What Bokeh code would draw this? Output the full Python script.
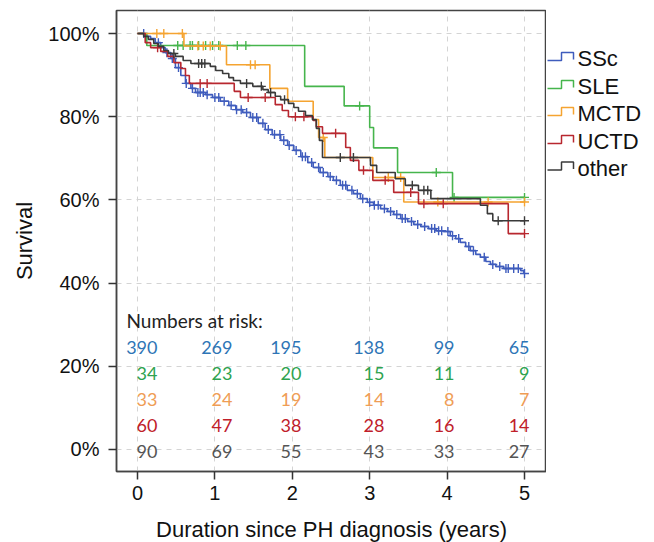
import numpy as np
from bokeh.plotting import figure
from bokeh.models import Range1d, FixedTicker, PrintfTickFormatter
from bokeh.layouts import row
from bokeh.core.properties import value
from bokeh.embed import file_html
from bokeh.resources import INLINE

# ---------------- data ----------------
groups = ["SSc", "SLE", "MCTD", "UCTD", "other"]
line_colors = ["#3f5cbd", "#46b54c", "#f5a431", "#b8272f", "#3a3a3a"]
risk_colors = ["#2e75b6", "#2ea34f", "#ef9d55", "#c0202a", "#555555"]

ssc_t = [0.10, 0.17, 0.23, 0.30, 0.36, 0.43, 0.49, 0.56, 0.62, 0.69,
         0.75, 0.88, 0.97, 1.07, 1.18, 1.27, 1.36, 1.46, 1.56, 1.65,
         1.74, 1.85, 1.94, 2.02, 2.11, 2.20, 2.27, 2.36, 2.46, 2.53,
         2.62, 2.71, 2.79, 2.88, 2.97, 3.05, 3.14, 3.23, 3.31, 3.40,
         3.49, 3.57, 3.66, 3.76, 3.86, 3.95, 4.04, 4.11, 4.17, 4.24,
         4.30, 4.37, 4.43, 4.50, 4.56, 4.63, 4.73, 4.95, 4.99]
ssc_s = [99.3, 98.8, 97.8, 96.6, 95.4, 94.0, 91.8, 89.9, 88.0, 86.8,
         85.8, 85.3, 84.6, 83.7, 82.7, 81.7, 81.0, 79.8, 78.4, 76.9,
         75.7, 74.3, 73.1, 71.9, 70.4, 69.0, 67.8, 66.6, 65.6, 64.7,
         63.5, 62.3, 61.5, 60.3, 59.4, 58.7, 57.9, 57.2, 56.5, 55.5,
         54.8, 54.1, 53.6, 53.1, 52.6, 52.4, 51.4, 50.7, 49.8, 48.8,
         47.8, 46.9, 46.2, 45.2, 44.5, 44.0, 43.5, 43.0, 42.3]
ssc_cens = [0.08, 0.27, 0.38, 0.45, 0.53, 0.63, 0.71, 0.78, 0.81, 0.85,
            0.90, 1.00, 1.05, 1.12, 1.21, 1.28, 1.34, 1.41, 1.49, 1.54,
            1.62, 1.69, 1.77, 1.84, 1.89, 1.96, 2.05, 2.13, 2.17, 2.25,
            2.34, 2.40, 2.49, 2.57, 2.65, 2.69, 2.77, 2.84, 2.91, 3.00,
            3.06, 3.11, 3.19, 3.27, 3.35, 3.42, 3.46, 3.54, 3.62, 3.71,
            3.80, 3.84, 3.89, 3.93, 4.01, 4.07, 4.15, 4.28, 4.34, 4.48,
            4.59, 4.68, 4.76, 4.79, 4.86, 4.92, 5.00]

sle_t = [0.12, 2.16, 2.67, 3.00, 3.05, 3.36, 4.07]
sle_s = [97.1, 87.3, 82.6, 77.4, 72.5, 66.6, 60.6]
sle_cens = [0.52, 0.59, 0.68, 0.71, 0.79, 0.88, 0.97, 1.05, 1.29, 1.40,
            2.87, 3.86, 4.09, 5.00]

mctd_t = [0.60, 1.15, 1.71, 1.94, 2.27, 2.34, 2.42, 3.04, 3.44]
mctd_s = [97.0, 92.5, 86.8, 83.7, 79.3, 75.0, 70.2, 65.4, 59.5]
mctd_cens = [0.25, 0.34, 0.58, 0.78, 0.85, 0.94, 1.07, 1.46, 1.52, 2.40,
             3.24, 3.40, 3.88, 4.53, 5.00]

uctd_t = [0.10, 0.17, 0.30, 0.39, 0.47, 0.56, 0.62, 0.67, 1.25, 1.33,
          1.78, 1.87, 1.95, 2.27, 2.31, 2.39, 2.69, 2.75, 2.86, 3.04,
          3.31, 3.63, 4.79]
uctd_s = [97.8, 96.6, 95.7, 94.5, 93.0, 91.6, 89.9, 88.0, 86.1, 84.6,
          82.9, 81.5, 80.0, 79.1, 77.6, 76.0, 72.6, 69.5, 67.1, 64.7,
          61.8, 59.1, 51.9]
uctd_cens = [0.26, 0.81, 0.90, 1.43, 1.65, 2.04, 2.15, 2.56, 2.92, 3.20,
             3.53, 3.70, 3.95, 5.00]

other_t = [0.08, 0.14, 0.21, 0.27, 0.34, 0.40, 0.49, 0.59, 0.69, 0.94,
           1.01, 1.10, 1.18, 1.24, 1.33, 1.49, 1.62, 1.69, 1.78, 1.85,
           1.95, 2.02, 2.08, 2.17, 2.26, 2.31, 2.35, 2.39, 3.01, 3.09,
           3.33, 3.46, 3.63, 3.79, 4.43, 4.52, 4.59]
other_s = [99.3, 98.6, 97.6, 96.9, 95.9, 95.2, 94.5, 93.5, 92.8, 92.1,
           91.1, 90.4, 89.4, 88.7, 88.0, 87.3, 86.5, 85.8, 84.9, 84.1,
           83.2, 82.2, 81.3, 80.3, 79.3, 77.2, 74.3, 70.2, 68.3, 66.6,
           65.1, 63.5, 62.3, 60.3, 58.7, 56.7, 55.0]
other_cens = [0.47, 0.79, 0.83, 0.87, 1.41, 1.60, 1.72, 1.90, 2.62, 2.79,
              3.55, 3.70, 3.75, 4.66, 5.00]

follow_end = 5.0

risk_ssc = [390, 269, 195, 138, 99, 65]
risk_sle = [34, 23, 20, 15, 11, 9]
risk_mctd = [33, 24, 19, 14, 8, 7]
risk_uctd = [60, 47, 38, 28, 16, 14]
risk_other = [90, 69, 55, 43, 33, 27]

x_ticks = [0, 1, 2, 3, 4, 5]
y_ticks = [0, 20, 40, 60, 80, 100]

# ---------------- layout constants ----------------
risk_label_x = [0.258, 1.227, 2.119, 3.191, 4.096, 5.065]
risk_row_y = [24.5, 18.3, 12.0, 5.8, -0.5]

AX_FONT = "Liberation Sans"
FRAME_H = 461
TOP = 10
BOTTOM = 70

p = figure(frame_width=430, frame_height=FRAME_H,
           x_range=Range1d(-0.271, 5.284), y_range=Range1d(-5.29, 105.53),
           output_backend="svg", toolbar_location=None,
           min_border_left=116, min_border_top=TOP, min_border_right=0,
           min_border_bottom=BOTTOM)
p.background_fill_color = "white"
p.outline_line_color = "#444444"
p.outline_line_width = 1.5

for ax in (p.xaxis, p.yaxis):
    ax.major_tick_out = 8
    ax.major_tick_in = 0
    ax.minor_tick_line_color = None
    ax.major_tick_line_color = "#333333"
    ax.major_tick_line_width = 1.5
    ax.axis_line_color = "#444444"
    ax.axis_line_width = 1.5
    ax.major_label_text_font = AX_FONT
    ax.major_label_text_font_size = "20px"
    ax.major_label_text_color = "#111111"
    ax.axis_label_text_font = AX_FONT
    ax.axis_label_text_font_size = "22px"
    ax.axis_label_text_font_style = "normal"
    ax.axis_label_text_color = "#111111"

p.xaxis.ticker = FixedTicker(ticks=x_ticks)
p.yaxis.ticker = FixedTicker(ticks=y_ticks)
p.yaxis.formatter = PrintfTickFormatter(format="%d%%")
p.xaxis.axis_label = "Duration since PH diagnosis (years)"
p.yaxis.axis_label = "Survival"
p.xaxis.major_label_standoff = 6
p.yaxis.major_label_standoff = 9
p.xaxis.axis_label_standoff = 14
p.yaxis.axis_label_standoff = 8

for g in (p.xgrid, p.ygrid):
    g.grid_line_color = "#d4d4d4"
    g.grid_line_dash = "5 5"
    g.grid_line_width = 1

curves = [(ssc_t, ssc_s, ssc_cens), (sle_t, sle_s, sle_cens),
          (mctd_t, mctd_s, mctd_cens), (uctd_t, uctd_s, uctd_cens),
          (other_t, other_s, other_cens)]

for (t, s, c), col in zip(curves, line_colors):
    xs = np.array([0.0] + list(t) + [follow_end])
    ys = np.array([100.0] + list(s) + [s[-1]])
    p.step(xs, ys, mode="after", line_color=col, line_width=1.6)
    c = np.array(c)
    idx = np.searchsorted(xs, c, side="right") - 1
    p.scatter(c, ys[idx], marker="cross", size=9, line_color=col,
              line_width=1.4)

# numbers at risk
p.text(x=[-0.142], y=[31.0], text=["Numbers at risk:"],
       text_font=value("Lato"), text_font_size="19px", text_color="#222222",
       text_align="left", text_baseline="middle")
for vals, col, yy in zip([risk_ssc, risk_sle, risk_mctd, risk_uctd, risk_other],
                         risk_colors, risk_row_y):
    p.text(x=risk_label_x, y=[yy] * len(vals), text=[str(v) for v in vals],
           text_font=value("Lato"), text_font_size="18px", text_color=col,
           text_align="right", text_baseline="middle")

# legend panel: same frame height as the plot, coordinates in pixels from frame top
leg = figure(frame_width=100, frame_height=FRAME_H, x_range=Range1d(0, 100),
             y_range=Range1d(FRAME_H, 0), output_backend="svg",
             toolbar_location=None, x_axis_type=None, y_axis_type=None,
             min_border_left=0, min_border_right=0, min_border_top=TOP,
             min_border_bottom=BOTTOM)
leg.outline_line_color = None
leg.grid.visible = False
leg_y = [48, 76, 103, 131, 157.5]
for name, col, yc in zip(groups, line_colors, leg_y):
    leg.line([1, 15, 15, 27, 27], [yc + 2, yc + 2, yc - 6, yc - 6, yc + 1],
             line_color=col, line_width=1.5)
    leg.text(x=[31], y=[yc], text=[name], text_font=value(AX_FONT),
             text_font_size="22px", text_color="#111111",
             text_align="left", text_baseline="middle")

layout = row(p, leg, spacing=0)
open("out.html", "w").write(file_html(layout, INLINE))
